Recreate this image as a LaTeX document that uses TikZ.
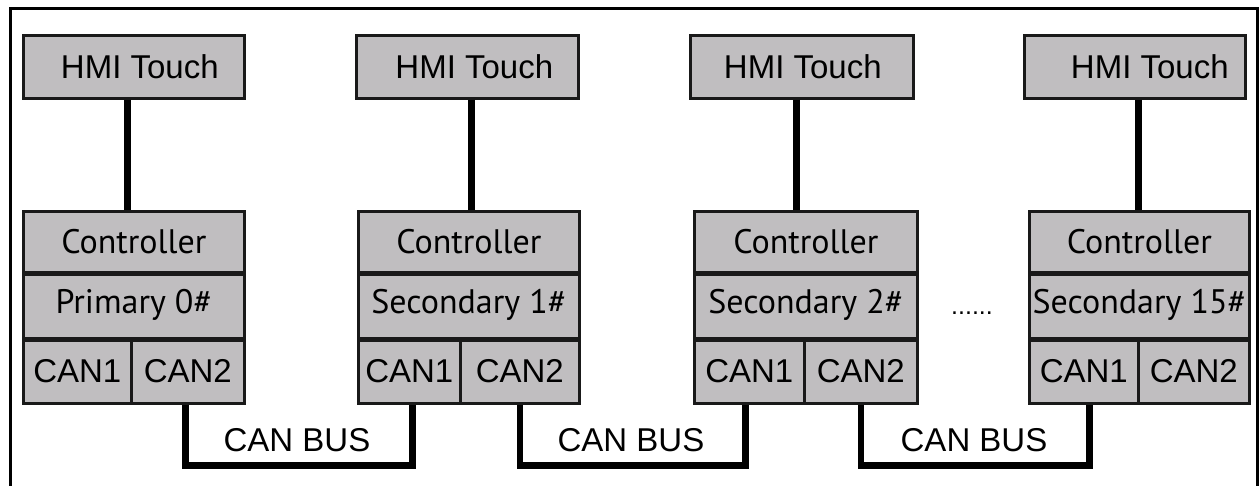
\documentclass[tikz,border=0pt]{standalone}
\usepackage{fontspec}
\setmainfont{Liberation Sans}
\newfontfamily\rolefont{PT Sans}
\usetikzlibrary{calc}
\definecolor{boxgray}{RGB}{192,190,192}
\definecolor{edge}{RGB}{25,25,25}
\tikzset{
  box/.style={draw=edge, line width=2.6pt, fill=boxgray, inner sep=0pt, anchor=north west,
    font=\fontsize{33}{36}\selectfont},
  rolebox/.style={box, font=\rolefont\fontsize{34}{38}\selectfont},
  wire/.style={line width=6.5pt, draw=black},
  bus/.style={line width=6.5pt, draw=black, line join=miter},
  sep/.style={line width=4.5pt, draw=edge},
  frame/.style={line width=3pt, draw=black},
  buslabel/.style={font=\fontsize{33}{36}\selectfont, inner sep=0pt},
  dotlabel/.style={font=\fontsize{25}{28}\selectfont, inner sep=0pt},
}
% #1 name, #2 x left, #3 total width, #4 CAN1 width, #5 CAN2 width, #6 role text
\newcommand\ctrlcol[6]{%
  \node[rolebox, minimum width=#3pt, minimum height=61pt] (#1c) at (#2,210) {Controller};
  \node[rolebox, minimum width=#3pt, minimum height=66pt] (#1r) at (#2,271) {#6};
  \node[box, minimum width=#4pt, minimum height=65pt] (#1a) at (#2,337) {CAN1};
  \node[box, minimum width=#5pt, minimum height=65pt] (#1b) at (#2+#4,337) {CAN2};
  \draw[sep] (#1c.south west) -- (#1c.south east);
  \draw[sep] (#1r.south west) -- (#1r.south east);
}
\begin{document}
\begin{tikzpicture}[x=1pt,y=-1pt]
\useasboundingbox (0,0) rectangle (1260,485);
\draw[frame] (10,495) -- (10,8) -- (1257,8) -- (1257,495);

% HMI touch panels
\node[box, minimum width=221pt, minimum height=63pt] (h1) at (22,34) {\hspace{12pt}HMI Touch};
\node[box, minimum width=222pt, minimum height=63pt] (h2) at (355,34) {\hspace{14pt}HMI Touch};
\node[box, minimum width=223pt, minimum height=63pt] (h3) at (689,34) {\hspace{2pt}HMI Touch};
\node[box, minimum width=221pt, minimum height=63pt] (h4) at (1023,34) {\hspace{30pt}HMI Touch};

% controllers
\ctrlcol{k1}{22}{221}{108}{113}{Primary 0\#}
\ctrlcol{k2}{357}{221}{102}{119}{Secondary 1\#}
\ctrlcol{k3}{693}{223}{110}{113}{Secondary 2\#}
\ctrlcol{k4}{1028}{220}{109}{111}{Secondary 15\#}

% HMI to controller links
\draw[wire] ([xshift=-6.5pt]h1.south) -- ([xshift=-6.5pt]h1.south |- k1c.north);
\draw[wire] ([xshift=4pt]h2.south) -- ([xshift=4pt]h2.south |- k2c.north);
\draw[wire] ([xshift=-5.5pt]h3.south) -- ([xshift=-5.5pt]h3.south |- k3c.north);
\draw[wire] ([xshift=3.5pt]h4.south) -- ([xshift=3.5pt]h4.south |- k4c.north);

% CAN bus links
\draw[bus] ([xshift=-2.5pt]k1b.south) -- ++(0,61) -| ([xshift=3pt]k2a.south);
\draw[bus] (k2b.south) -- ++(0,61) -| ([xshift=-4pt]k3a.south);
\draw[bus] (k3b.south) -- ++(0,61) -| ([xshift=5.5pt]k4a.south);

\node[buslabel] (bl1) at (297,440) {CAN BUS};
\node[buslabel] (bl2) at (631,440) {CAN BUS};
\node[buslabel] (bl3) at (974,440) {CAN BUS};

\node[dotlabel] (dots) at (972,313) {......};
\end{tikzpicture}
\end{document}
